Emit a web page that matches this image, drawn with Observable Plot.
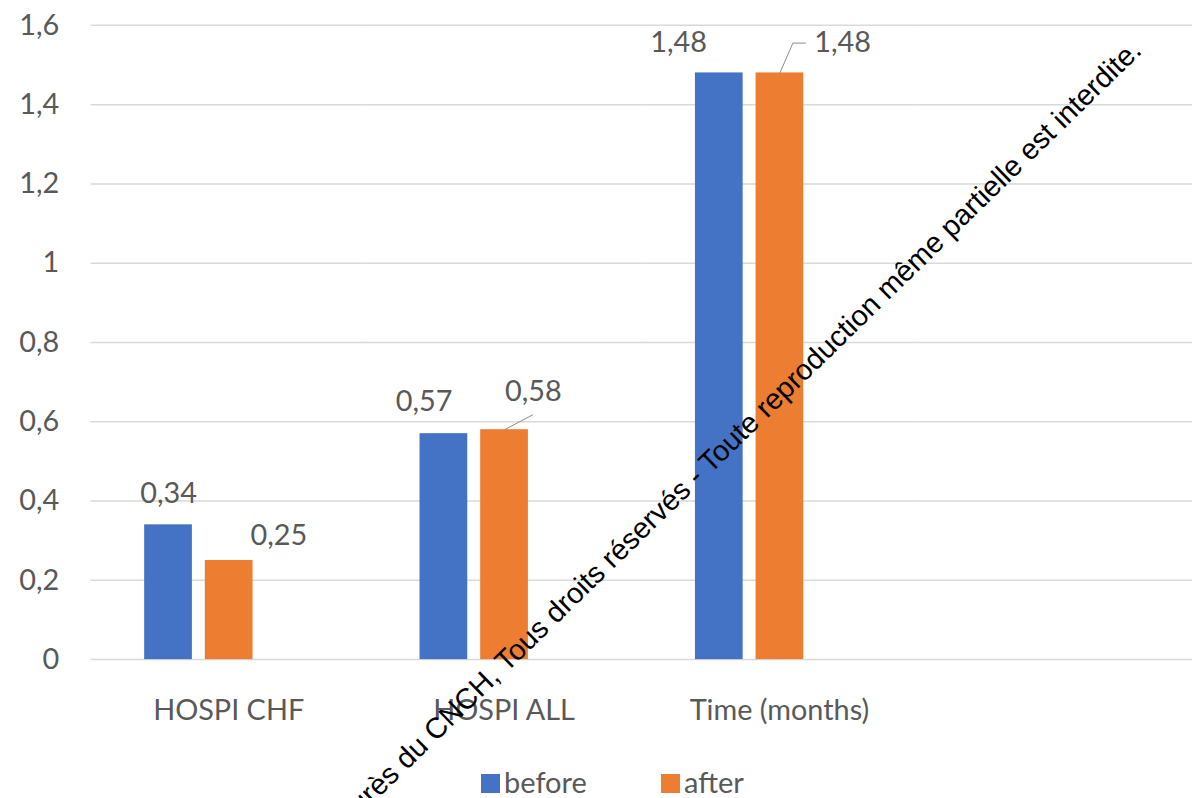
<!DOCTYPE html>
<html>
<head>
<meta charset="utf-8">
<script src="https://cdn.jsdelivr.net/npm/d3@7"></script>
<script src="https://cdn.jsdelivr.net/npm/@observablehq/plot@0.6"></script>
<style>
  html, body { margin: 0; padding: 0; background: #fff; overflow: hidden; }
  #wrap { position: relative; width: 1193px; height: 798px; }
  #chart { position: absolute; left: 0; top: 0; }
  .legend-item { position: absolute; top: 767px; font: 29px/29px Lato, sans-serif; color: #595959; white-space: nowrap; }
  .legend-item .sw { display: inline-block; width: 19px; height: 19px; margin-right: 4px; }
  #notice { position: absolute; left: 0; top: 0; pointer-events: none; }
</style>
</head>
<body>
<div id="wrap">
  <div id="chart"></div>
  <div class="legend-item" style="left:481px"><span class="sw" style="background:#4472C4"></span>before</div>
  <div class="legend-item" style="left:661px"><span class="sw" style="background:#ED7D31"></span>after</div>
  <svg id="notice" width="1193" height="798">
    <text transform="translate(1143,52) rotate(-44.3)" text-anchor="end"
          font-family="Liberation Sans, Arial, sans-serif" font-size="29" fill="#000">Congrès du CNCH, Tous droits réservés - Toute reproduction même partielle est interdite.</text>
  </svg>
</div>
<script>
// Categories and the two series (before / after)
const categories = ["HOSPI CHF", "HOSPI ALL", "Time (months)"];
const seriesNames = ["before", "after"];
const beforeValues = [0.34, 0.57, 1.48];
const afterValues = [0.25, 0.58, 1.48];
const yTicks = [0, 0.2, 0.4, 0.6, 0.8, 1, 1.2, 1.4, 1.6];
const colors = ["#4472C4", "#ED7D31"];

// The category axis keeps one unused slot on the right
const fxDomain = [...categories, " "];

const rows = categories.flatMap((category, i) => [
  {category, series: "before", value: beforeValues[i]},
  {category, series: "after", value: afterValues[i]}
]);

const fmt = v => String(v).replace(".", ",");

// Hand-placed value labels: pixel nudges from each bar's top centre
const labelNudge = [[0, -31.5], [50, -25], [-20, -32], [29, -38], [-41, -30], [63, -30]];

// A curve that draws a leader polyline from the anchor point using pixel steps
const leader = steps => context => {
  let started = false;
  return {
    lineStart() { started = false; },
    lineEnd() {},
    areaStart() {},
    areaEnd() {},
    point(x, y) {
      if (started) return;
      started = true;
      context.moveTo(x + steps[0][0], y + steps[0][1]);
      for (const [sx, sy] of steps.slice(1)) context.lineTo(x + sx, y + sy);
    }
  };
};

const gridRows = d3.cross(fxDomain, yTicks).map(([category, v]) => ({category, v}));

const labelMarks = rows.map((r, i) => Plot.text([r], {
  fx: "category", x: "series", y: "value",
  text: d => fmt(d.value),
  dx: labelNudge[i][0], dy: labelNudge[i][1],
  fill: "#595959", fontSize: 29
}));

const plot = Plot.plot({
  width: 1200,
  height: 740,
  marginLeft: 90,
  marginRight: 1,
  marginTop: 25,
  marginBottom: 77,
  style: {fontFamily: "Lato, sans-serif", fontSize: "29px", color: "#595959", background: "transparent", overflow: "visible"},
  fx: {domain: fxDomain, padding: 0},
  x: {domain: seriesNames, paddingInner: 0.22, paddingOuter: 1.364, align: 0.319, axis: null},
  y: {domain: [0, 1.6], axis: null},
  color: {domain: seriesNames, range: colors},
  marks: [
    Plot.ruleY(gridRows, {fx: "category", y: "v", stroke: "#d9d9d9", strokeWidth: 1.5}),
    Plot.axisY({ticks: yTicks, tickFormat: fmt, tickSize: 0, tickPadding: 32, label: null}),
    Plot.axisFx({anchor: "bottom", tickSize: 0, tickPadding: 40, label: null}),
    Plot.barY(rows, {fx: "category", x: "series", y: "value", fill: "series"}),
    Plot.link([rows[3]], {fx: "category", x1: "series", x2: "series", y1: "value", y2: "value",
      stroke: "#8c8c8c", strokeWidth: 1, curve: leader([[0, 0], [28.5, -15]])}),
    Plot.link([rows[5]], {fx: "category", x1: "series", x2: "series", y1: "value", y2: "value",
      stroke: "#8c8c8c", strokeWidth: 1, curve: leader([[0, 0], [13, -30], [26, -30]])}),
    ...labelMarks
  ]
});

document.getElementById("chart").appendChild(plot);
</script>
</body>
</html>
